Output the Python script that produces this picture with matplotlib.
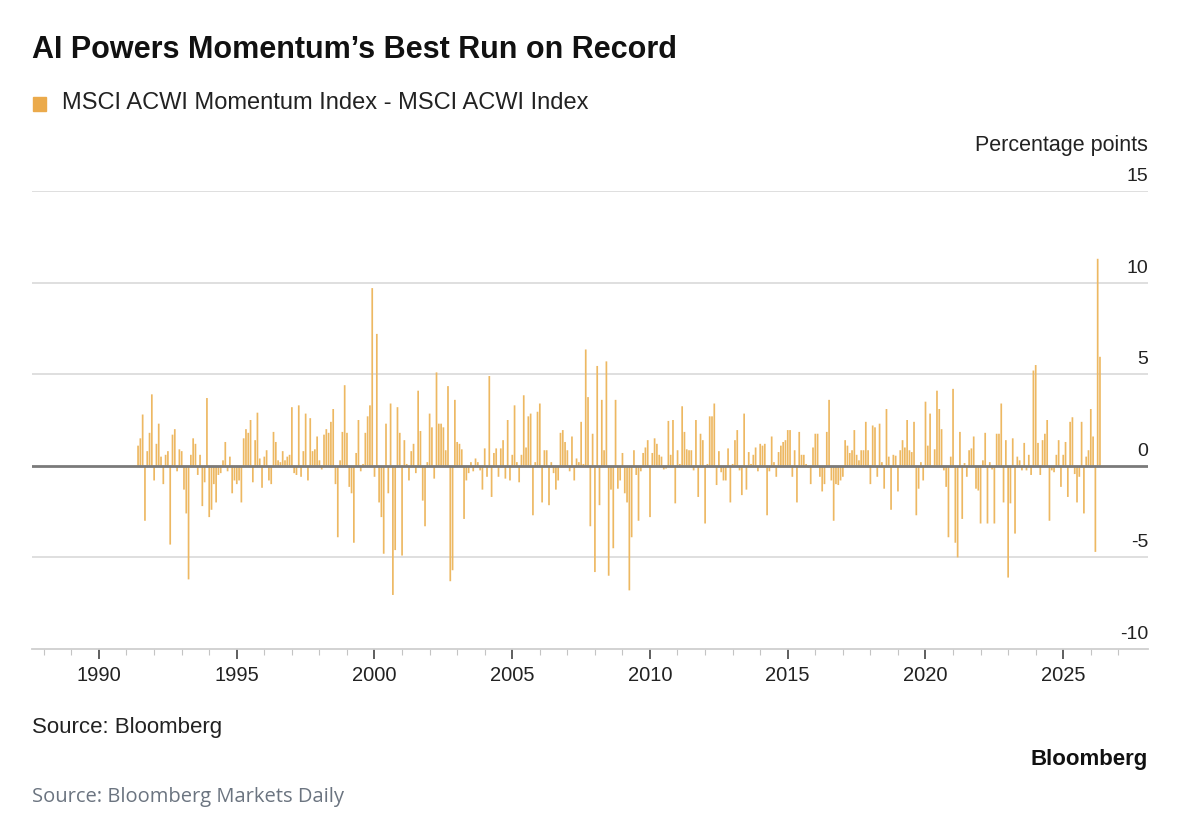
import numpy as np
import matplotlib
matplotlib.use("Agg")
import matplotlib.pyplot as plt
import matplotlib.transforms as mtransforms

# monthly spread, MSCI ACWI Momentum minus MSCI ACWI (percentage points), from mid-1991
start_year = 1991.42
vals_1991_1995 = [1.1, 1.5, 2.8, -3.0, 0.8, 1.8, 3.9, -0.8, 1.2, 2.3,
                  0.5, -1.0, 0.6, 0.8, -4.3, 1.7, 2.0, -0.3, 0.9, 0.8,
                  -1.3, -2.6, -6.2, 0.6, 1.5, 1.2, -0.5, 0.6, -2.2, -0.9,
                  3.7, -2.8, -2.4, -1.0, -2.0, -0.5, -0.4, 0.3, 1.3, -0.3,
                  0.5, -1.5, -0.8, -1.0, -0.8, -2.0, 1.5, 2.0, 1.8, 2.5,
                  -0.9]
vals_1995_2000 = [1.4, 2.9, 0.4, -1.2, 0.5, 0.85, -0.8, -1.0, 1.85, 1.3,
                  0.3, 0.2, 0.8, 0.3, 0.5, 0.6, 3.2, -0.4, -0.5, 3.3,
                  -0.6, 0.8, 2.85, -0.8, 2.6, 0.8, 0.9, 1.6, 0.3, -0.2,
                  1.7, 2.0, 1.8, 2.4, 3.1, -1.0, -3.9, 0.3, 1.85, 4.4,
                  1.8, -1.15, -1.5, -4.2, 0.7, 2.5, -0.3, 0.1, 1.8, 2.7,
                  3.3, 9.7, -0.6, 7.2]
vals_2000_2004 = [-2.0, -2.8, -4.8, 2.3, -1.5, 3.4, -7.05, -4.6, 3.2, 1.8,
                  -4.9, 1.4, 0.1, -0.8, 0.8, 1.2, -0.4, 4.1, 1.9, -1.9,
                  -3.3, 0.2, 2.85, 2.1, -0.7, 5.1, 2.3, 2.3, 2.1, 0.85,
                  4.35, -6.3, -5.7, 3.6, 1.3, 1.2, 0.9, -2.9, -0.8, -0.4,
                  0.2, -0.3, 0.4, 0.2, -0.25, -1.3, 0.95, -0.6, 4.9, -1.7,
                  0.7, 0.95, -0.6, 0.95, 1.4]
vals_2004_2009 = [-0.7, 2.5, -0.8, 0.6, 3.3, 0.2, -0.9, 0.6, 3.85, 1.0,
                  2.7, 2.85, -2.7, 0.2, 2.95, 3.4, -2.0, 0.85, 0.85, -2.15,
                  0.2, -0.4, -1.3, -0.8, 1.8, 1.95, 1.3, 0.85, -0.3, 1.6,
                  -0.8, 0.4, 0.2, 2.4, 0.1, 6.35, 3.75, -3.3, 1.75, -5.8,
                  5.45, -2.15, 3.6, 0.85, 5.7, -6.0, -1.3, -4.5, 3.6, -1.25,
                  -0.8, 0.7, -1.5, -2.0, -6.8]
vals_2009_2013 = [-3.9, 0.85, -0.5, -3.0, -0.3, 0.7, 1.0, 1.4, -2.8, 0.7,
                  1.5, 1.2, 0.6, 0.5, -0.2, -0.15, 2.45, 0.6, 2.5, -2.05,
                  0.85, 0.1, 3.25, 1.85, 0.9, 0.85, 0.85, -0.25, 2.5, -1.7,
                  1.75, 1.4, -3.15, 0.1, 2.7, 2.7, 3.4, -1.05, 0.8, -0.35,
                  -0.8, -0.8, 0.95, -2.0, 0.1, 1.4, 1.95, -0.25, -1.6, 2.85,
                  -1.3, 0.75, 0.1]
vals_2013_2018 = [0.6, 1.0, -0.3, 1.2, 1.1, 1.2, -2.7, -0.3, 1.6, 0.2,
                  -0.6, 0.75, 1.1, 1.3, 1.4, 1.95, 1.95, -0.6, 0.85, -2.0,
                  1.85, 0.6, 0.6, 0.1, -0.1, -1.0, 1.0, 1.75, 1.75, -0.6,
                  -1.4, -1.0, 1.85, 3.6, -0.8, -3.0, -1.0, -1.05, -0.8, -0.6,
                  1.4, 1.1, 0.7, 0.85, 1.95, 0.6, 0.3, 0.85, 0.85, 2.4,
                  0.85, -1.0, 2.2, 2.1, -0.6, 2.3]
vals_2018_2022 = [0.2, -1.25, 3.1, 0.5, -2.4, 0.6, 0.55, -1.4, 0.85, 1.4,
                  1.0, 2.5, 0.85, 0.75, 2.4, -2.7, -1.25, 0.2, -0.8, 3.5,
                  1.1, 2.85, -0.05, 0.9, 4.1, 3.1, 2.0, -0.25, -1.15, -3.9,
                  0.5, 4.2, -4.2, -5.0, 1.85, -2.9, 0.15, -0.6, 0.85, 0.95,
                  1.6, -1.25, -1.35, -3.15, 0.3, 1.8, -3.15, 0.2, -0.2, -3.15,
                  1.75, 1.75]
vals_2022_2026 = [3.4, -2.0, 1.4, -6.1, -2.05, 1.5, -3.7, 0.5, 0.3, -0.25,
                  1.25, -0.25, 0.6, -0.5, 5.2, 5.5, 1.25, -0.5, 1.4, 1.75,
                  2.5, -3.0, -0.25, -0.35, 0.6, 1.4, -1.15, 0.6, 1.3, -1.7,
                  2.4, 2.65, -0.45, -2.0, -0.6, 2.4, -2.6, 0.5, 0.85, 3.1,
                  1.6, -4.7, 11.3, 5.95]

spread = np.array(vals_1991_1995 + vals_1995_2000 + vals_2000_2004 + vals_2004_2009
                  + vals_2009_2013 + vals_2013_2018 + vals_2018_2022 + vals_2022_2026)
years = start_year + np.arange(len(spread)) / 12.0

y_ticks = [15, 10, 5, 0, -5, -10]
x_major = [1990, 1995, 2000, 2005, 2010, 2015, 2020, 2025]

bar_color = "#EDB862"
W, H = 1186, 832
fig = plt.figure(figsize=(W / 100, H / 100), dpi=100)
fig.patch.set_facecolor("white")
plt.rcParams["font.family"] = ["Liberation Sans", "DejaVu Sans"]

ax = fig.add_axes([32 / W, 1 - 649 / H, 1116 / W, 458 / H])
ax.set_xlim(1987.57, 2028.08)
ax.set_ylim(-10, 15)

for yv in y_ticks:
    if yv == 0 or yv == -10:
        continue
    ax.axhline(yv, color="#DCDCDC", lw=1.3, zorder=0)

bars = ax.bar(years, spread, width=0.062, color=bar_color, zorder=2, linewidth=0)
for b in bars:
    b.set_snap(False)
ax.axhline(0, color="#7A7A7A", lw=2.0, zorder=3)

for s in ["top", "left", "right"]:
    ax.spines[s].set_visible(False)
ax.spines["bottom"].set_color("#CFCFCF")
ax.spines["bottom"].set_linewidth(1.3)
ax.set_yticks([])
ax.set_xticks(x_major)
ax.set_xticks(np.arange(1988, 2028), minor=True)
ax.tick_params(axis="x", which="major", length=7, width=1.1, color="#333333",
               labelsize=14.5, labelcolor="#222222", pad=5)
ax.tick_params(axis="x", which="minor", length=4, width=0.8, color="#C4C4C4")

# y labels sit above their gridlines on the right
shift = mtransforms.ScaledTranslation(0, 6 / 100, fig.dpi_scale_trans)
trans = mtransforms.blended_transform_factory(ax.transAxes, ax.transData) + shift
for yv in y_ticks:
    ax.text(1.0, yv, str(yv), transform=trans, ha="right", va="bottom",
            fontsize=14, color="#222222")

fig.text(1148 / W, 1 - 145 / H, "Percentage points", ha="right", va="center",
         fontsize=15.5, color="#222222")

fig.text(32 / W, 1 - 50 / H, "AI Powers Momentum\u2019s Best Run on Record", ha="left",
         va="center", fontsize=22, fontweight="bold", color="#111111")
fig.patches.append(plt.Rectangle((33 / W, 1 - 111 / H), 13 / W, 14 / H,
                                 transform=fig.transFigure, color="#EBAA4B"))
fig.text(62 / W, 1 - 103 / H, "MSCI ACWI Momentum Index - MSCI ACWI Index", ha="left",
         va="center", fontsize=17, color="#222222")

fig.text(32 / W, 1 - 727 / H, "Source: Bloomberg", ha="left", va="center",
         fontsize=16, color="#222222")
fig.text(1148 / W, 1 - 760 / H, "Bloomberg", ha="right", va="center",
         fontsize=16, fontweight="bold", color="#111111")
fig.text(32 / W, 1 - 797 / H, "Source: Bloomberg Markets Daily", ha="left", va="center",
         fontsize=14.5, color="#6B7480", family=["Open Sans", "DejaVu Sans"])

fig.savefig("out.png", dpi=100, facecolor="white")
